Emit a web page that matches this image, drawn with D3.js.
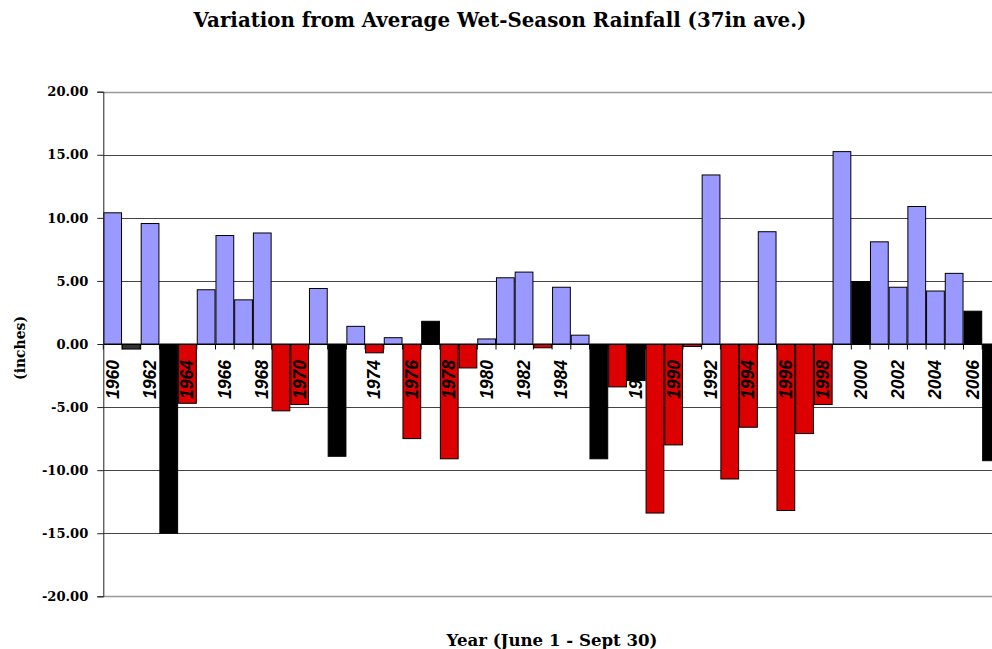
<!DOCTYPE html>
<html><head><meta charset="utf-8">
<script src="https://cdn.jsdelivr.net/npm/d3@7"></script>
<style>
body{margin:0;background:#fff;overflow:hidden}
svg{display:block}
</style></head>
<body>
<svg id="c" width="992" height="649"></svg>
<script>
const years = d3.range(1960, 2008);
const values = [10.4,-0.4,9.55,-15.0,-4.7,4.3,8.6,3.5,8.8,-5.3,
  -4.8,4.4,-8.9,1.4,-0.7,0.5,-7.5,1.8,-9.1,-1.9,
  0.4,5.25,5.7,-0.3,4.5,0.7,-9.1,-3.4,-2.9,-13.4,
  -8.0,-0.2,13.4,-10.7,-6.6,8.9,-13.2,-7.1,-4.8,15.25,
  4.95,8.1,4.5,10.9,4.2,5.6,2.6,-9.25];
// bar class: b = wet (blue), r = dry (red), k = black, g = dark grey
const kinds = ["b","g","b","k","r","b","b","b","b","r",
  "r","b","k","b","r","b","r","k","r","r",
  "b","b","b","r","b","b","k","r","k","r",
  "r","r","b","r","r","b","r","r","r","b",
  "k","b","b","b","b","b","k","k"];
const yTicks = [20,15,10,5,0,-5,-10,-15,-20];
const labelYears = years.filter(y => y % 2 === 0);
const colors = {b:"#9999ff", r:"#dd0000", k:"#000000", g:"#333333"};

const svg = d3.select("#c");
const left = 103.3, band = 18.7;
const x = d3.scaleBand().domain(years).range([left, left + band*years.length]).paddingInner(0.05).paddingOuter(0.025);
const y = d3.scaleLinear().domain([-20,20]).range([596.3, 91.7]);
const serif = "'DejaVu Serif','Liberation Serif',serif";
const fmt = d3.formatLocale({decimal:".", thousands:",", grouping:[3], currency:["",""], minus:"-"}).format(".2f");

function fit(sel, target) {
  sel.each(function() {
    const fs = parseFloat(this.getAttribute("font-size"));
    const w = this.getComputedTextLength();
    if (w > 0) this.setAttribute("font-size", (fs * target / w).toFixed(2) + "px");
  });
}

// gridlines
svg.append("g").selectAll("line").data(yTicks).join("line")
  .attr("x1", left).attr("x2", 992)
  .attr("y1", d => Math.round(y(d))+0.5).attr("y2", d => Math.round(y(d))+0.5)
  .attr("stroke", d => (d===20||d===-20) ? "#999" : "#444")
  .attr("stroke-width", d => (d===20||d===-20) ? 1.5 : 1);

// bars
svg.append("g").selectAll("rect").data(years).join("rect")
  .attr("x", d => x(d))
  .attr("width", x.bandwidth())
  .attr("y", (d,i) => y(Math.max(0, values[i])))
  .attr("height", (d,i) => Math.abs(y(values[i]) - y(0)))
  .attr("fill", (d,i) => colors[kinds[i]])
  .attr("stroke", "#000").attr("stroke-width", 1);

// zero axis with ticks
const y0 = Math.round(y(0))+0.5;
svg.append("line").attr("x1", left).attr("x2", 992).attr("y1", y0).attr("y2", y0).attr("stroke","#000");
svg.append("g").selectAll("line").data(d3.range(years.length+1)).join("line")
  .attr("x1", i => left + i*band).attr("x2", i => left + i*band)
  .attr("y1", y0).attr("y2", y0+5).attr("stroke","#000");

// y axis
const yAxis = d3.axisLeft(y).tickValues(yTicks).tickFormat(fmt).tickSize(6).tickPadding(9);
const ga = svg.append("g").attr("transform", `translate(${left},0)`).call(yAxis);
ga.select(".domain").attr("stroke","#222");
ga.selectAll(".tick line").attr("stroke","#222");
ga.selectAll("text").attr("font-family", serif).attr("font-weight","bold").attr("font-size","14px").attr("fill","#000");
fit(ga.selectAll(".tick").filter(d => d === 20).select("text"), 41);
const fsTick = ga.selectAll(".tick").filter(d => d === 20).select("text").attr("font-size");
ga.selectAll("text").attr("font-size", fsTick);

// x labels
svg.append("g").selectAll("text").data(labelYears).join("text")
  .attr("transform", d => `translate(${x(d)+x.bandwidth()/2+6},360) rotate(-90)`)
  .attr("text-anchor","end")
  .attr("font-family","'Liberation Sans',Arial,sans-serif")
  .attr("font-weight","bold").attr("font-style","italic").attr("font-size","17.5px")
  .text(d => d);

// titles
const t = svg.append("text").attr("x", 500).attr("y", 27).attr("text-anchor","middle")
  .attr("font-family", serif).attr("font-weight","bold").attr("font-size","20px")
  .text("Variation from Average Wet-Season Rainfall (37in ave.)");
fit(t, 613);
const xt = svg.append("text").attr("x", 552).attr("y", 646).attr("text-anchor","middle")
  .attr("font-family", serif).attr("font-weight","bold").attr("font-size","16px")
  .text("Year (June 1 - Sept 30)");
fit(xt, 211);
const yt = svg.append("text").attr("transform","translate(25,348) rotate(-90)").attr("text-anchor","middle")
  .attr("font-family", serif).attr("font-weight","bold").attr("font-size","14px")
  .text("(inches)");
fit(yt, 64);
</script>
</body></html>
